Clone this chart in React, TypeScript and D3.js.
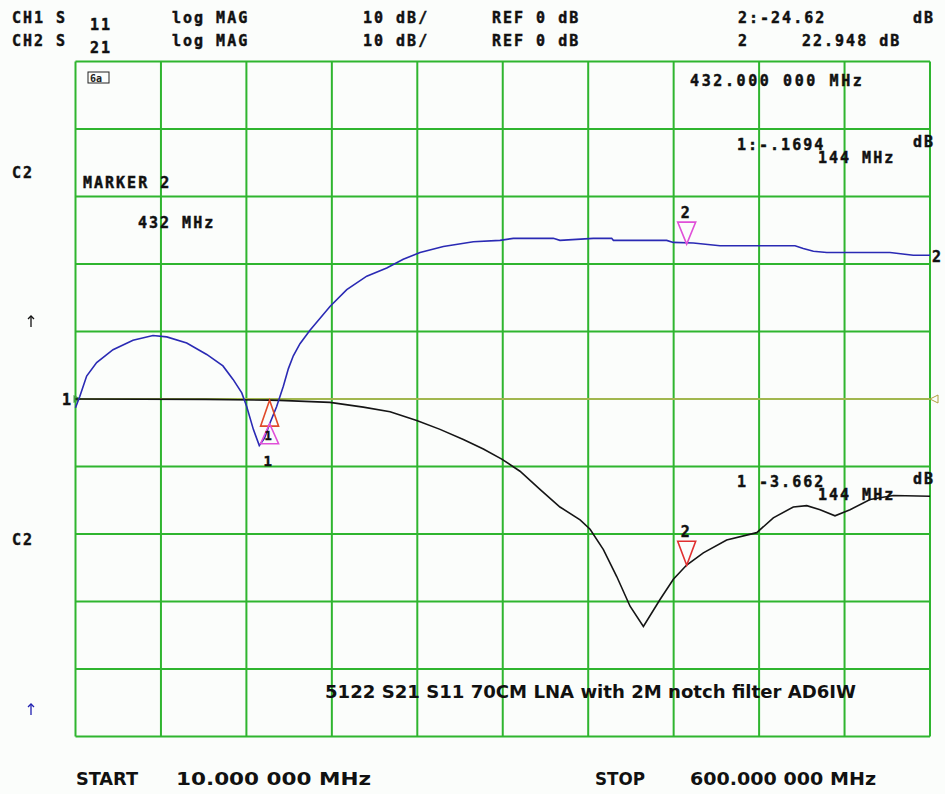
import React from "react";
import * as d3 from "d3";

// frequency sweep (MHz) and grid
const freqGrid = [10, 69, 128, 187, 246, 305, 364, 423, 482, 541, 600];
const dbGrid = [50, 40, 30, 20, 10, 0, -10, -20, -30, -40, -50];

const s21Freq = [10, 13, 17.7, 24.6, 35.9, 49.7, 63.5, 73, 86.8, 100.6, 111.8, 118.8, 124.8, 128.2, 132.8, 136.9, 140.5, 144, 148.9, 153.5, 157, 160.4, 165, 171.9, 185.7, 197.3, 211.1, 224.9, 236.3, 247.9, 264, 284.7, 303.1, 312.3, 339.9, 344.5, 367.5, 380.2, 381.4, 418.2, 422.8, 436.6, 455, 506.8, 512.5, 519.5, 528.7, 572.4, 588.5, 600];
const s21Db = [-1.3, 0.4, 3.4, 5.4, 7.3, 8.7, 9.4, 9.2, 8.3, 6.6, 4.9, 2.9, 0.9, -1.1, -4.5, -6.9, -5.8, -3.7, -1.1, 1.9, 4.5, 6.4, 8.2, 10.2, 13.7, 16.2, 18.2, 19.4, 20.7, 21.7, 22.6, 23.3, 23.5, 23.8, 23.8, 23.5, 23.8, 23.8, 23.5, 23.5, 23.2, 23.1, 22.7, 22.7, 22.3, 21.9, 21.7, 21.7, 21.3, 21.3];

// CH1 S11 (black) trace
const s11Freq = [10, 100, 144, 151, 185.7, 208.7, 227.2, 245.6, 261.7, 277.8, 291.6, 304.3, 316.9, 330.7, 344.5, 358.4, 365.3, 374.5, 383.7, 392.9, 402.1, 413.6, 422.8, 432, 443.5, 459.6, 480.4, 491.8, 505.6, 514.9, 524.1, 534.4, 544.8, 558.6, 574.7, 600];
const s11Db = [0, -0.05, -0.17, -0.2, -0.5, -1.2, -1.9, -3.2, -4.5, -6.0, -7.4, -8.9, -10.7, -13.4, -16.0, -17.9, -19.3, -22.3, -26.3, -30.7, -33.7, -29.7, -26.7, -24.6, -22.8, -20.9, -19.8, -17.6, -16.0, -15.8, -16.4, -17.3, -16.4, -14.9, -14.3, -14.4];

// markers
const markerFreqs = [144, 432];
const s11MarkerDb = [-0.17, -24.62];
const s21MarkerDb = [-3.662, 22.948];

const W = 945;
const H = 794;
const FONT = "'DejaVu Sans Mono', monospace";

const Txt = ({ x, y, t, size = 15, fill = "#111", ls = 2 }: any) => (
  <text x={x} y={y} fontFamily={FONT} fontWeight="bold" fontSize={size} letterSpacing={ls} fill={fill}
    stroke={fill} strokeWidth={0.45}>
    {t}
  </text>
);

const Narrow = ({ x, y, t, w }: any) => (
  <text x={x} y={y} fontFamily="'DejaVu Sans Condensed', 'DejaVu Sans', sans-serif" fontWeight="bold" fontSize={17}
    fill="#111" textLength={w} lengthAdjust="spacingAndGlyphs">
    {t}
  </text>
);

const Arrow = ({ x, y, color }: any) => (
  <g stroke={color} strokeWidth={1.3} fill="none">
    <line x1={x} x2={x} y1={y} y2={y + 11} />
    <path d={`M${x - 3},${y + 3}L${x},${y}L${x + 3},${y + 3}`} />
  </g>
);

export default function App() {
  const x = d3.scaleLinear().domain([10, 600]).range([75.5, 930]);
  const y = d3.scaleLinear().domain([-50, 50]).range([736.5, 61.5]);

  const line = d3
    .line<[number, number]>()
    .x((d) => x(d[0]))
    .y((d) => y(d[1]));

  const s21 = s21Freq.map((f, i) => [f, s21Db[i]] as [number, number]);
  const s11 = s11Freq.map((f, i) => [f, s11Db[i]] as [number, number]);

  // triangle helpers: apex at the trace point
  const triUp = (px: number, py: number, h: number) =>
    `M${px},${py}L${px - 9},${py + h}L${px + 9},${py + h}Z`;
  const triDown = (px: number, py: number, h: number) =>
    `M${px},${py}L${px - 9},${py - h}L${px + 9},${py - h}Z`;

  const m1x = x(markerFreqs[0]);
  const m2x = x(markerFreqs[1]);

  return (
    <svg width={W} height={H} style={{ position: "absolute", left: 0, top: 0, background: "#fbfdfb" }}>
      <rect x={0} y={0} width={W} height={H} fill="#fbfdfb" />

      {/* grid */}
      <g stroke="#2fb52f" strokeWidth={2}>
        {freqGrid.map((f) => (
          <line key={"v" + f} x1={x(f)} x2={x(f)} y1={y(50)} y2={y(-50)} />
        ))}
        {dbGrid.map((d) => (
          <line key={"h" + d} x1={x(10)} x2={x(600)} y1={y(d)} y2={y(d)} />
        ))}
      </g>

      {/* reference line */}
      <line x1={x(10)} x2={x(600)} y1={y(0)} y2={y(0)} stroke="#c8b85a" strokeWidth={1.5} />
      <path d={`M${x(600)},${y(0)}L${x(600) + 8},${y(0) - 4}L${x(600) + 8},${y(0) + 4}Z`} fill="none" stroke="#b0a040" strokeWidth={1} />
      <path d={`M${x(10) + 6},${y(0)}L${x(10) - 2},${y(0) - 4}L${x(10) - 2},${y(0) + 4}Z`} fill="#40a040" />
      <Txt x={62} y={y(0) + 6} t="1" size={15} />

      {/* traces */}
      <path d={line(s11) || ""} fill="none" stroke="#151515" strokeWidth={1.6} />
      <path d={line(s21) || ""} fill="none" stroke="#2a2ab4" strokeWidth={1.6} />

      {/* marker 1 */}
      <path d={triUp(m1x, y(s11MarkerDb[0]), 26)} fill="none" stroke="#e04a2a" strokeWidth={1.6} />
      <path d={triUp(m1x, y(s21MarkerDb[0]), 20)} fill="none" stroke="#e050d8" strokeWidth={1.6} />
      <Txt x={m1x - 5} y={y(s21MarkerDb[0]) + 16} t="1" size={12} ls={0} />
      <Txt x={m1x - 6} y={y(s21MarkerDb[0]) + 42} t="1" size={14} ls={0} />

      {/* marker 2 */}
      <path d={triDown(m2x, y(s21MarkerDb[1]), 22)} fill="none" stroke="#e050d8" strokeWidth={1.6} />
      <Txt x={m2x - 6} y={y(s21MarkerDb[1]) - 26} t="2" size={15} ls={0} />
      <path d={triDown(m2x, y(s11MarkerDb[1]), 24)} fill="none" stroke="#e03030" strokeWidth={1.6} />
      <Txt x={m2x - 6} y={y(s11MarkerDb[1]) - 28} t="2" size={15} ls={0} />
      <Txt x={x(600) + 2} y={y(s21Db[s21Db.length - 1]) + 7} t="2" size={15} ls={0} />

      {/* header */}
      <Txt x={12} y={23} t="CH1 S" />
      <Txt x={90} y={30} t="11" />
      <Txt x={172} y={23} t="log MAG" />
      <Txt x={363} y={23} t="10 dB/" />
      <Txt x={492} y={23} t="REF 0 dB" />
      <Txt x={738} y={23} t="2:-24.62" />
      <Txt x={913} y={23} t="dB" />
      <Txt x={12} y={46} t="CH2 S" />
      <Txt x={90} y={53} t="21" />
      <Txt x={172} y={46} t="log MAG" />
      <Txt x={363} y={46} t="10 dB/" />
      <Txt x={492} y={46} t="REF 0 dB" />
      <Txt x={738} y={46} t="2" />
      <Txt x={802} y={46} t="22.948 dB" />

      {/* in-grid annotations */}
      <rect x={88} y={72} width={21} height={11} fill="none" stroke="#222" strokeWidth={1} />
      <text x={90} y={82} fontFamily={FONT} fontSize={10} fontWeight="bold" fill="#222">6a</text>
      <Txt x={690} y={86} t="432.000 000 MHz" ls={2.6} />
      <Txt x={737} y={150} t="1:-.1694" />
      <Txt x={913} y={147} t="dB" />
      <Txt x={818} y={163} t="144 MHz" />
      <Txt x={12} y={178} t="C2" />
      <Txt x={83} y={188} t="MARKER 2" />
      <Txt x={138} y={228} t="432 MHz" />
      <Arrow x={31} y={316} color="#111" />
      <Txt x={737} y={487} t="1 -3.662" />
      <Txt x={913} y={484} t="dB" />
      <Txt x={818} y={500} t="144 MHz" />
      <Txt x={12} y={545} t="C2" />
      <Arrow x={31} y={704} color="#2020b0" />
      <Narrow x={325} y={698} t="5122 S21 S11 70CM LNA with 2M notch filter AD6IW" w={531} />

      {/* footer */}
      <Narrow x={76} y={785} t="START" w={62} />
      <Narrow x={176} y={785} t="10.000 000 MHz" w={195} />
      <Narrow x={595} y={785} t="STOP" w={50} />
      <Narrow x={690} y={785} t="600.000 000 MHz" w={186} />
    </svg>
  );
}
